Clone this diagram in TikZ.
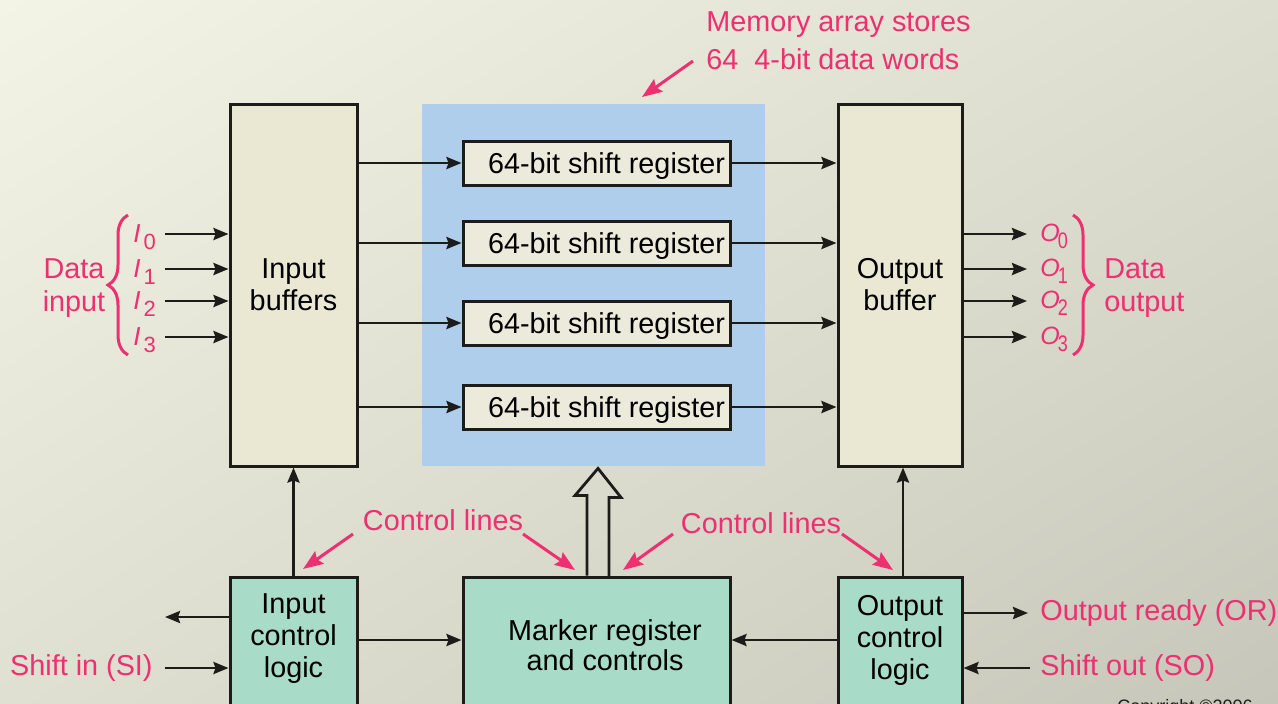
\documentclass[tikz,border=0pt]{standalone}
\usepackage{fontspec}
\setmainfont{Liberation Sans}
\usetikzlibrary{arrows.meta,decorations.pathreplacing,calc,shadings}
\definecolor{pinklbl}{RGB}{236,48,112}
\definecolor{bufcream}{RGB}{234,232,210}
\definecolor{regcream}{RGB}{236,234,218}
\definecolor{memblue}{RGB}{174,206,236}
\definecolor{ctlgreen}{RGB}{168,220,200}
\definecolor{inkblack}{RGB}{30,28,24}
\definecolor{bgA}{RGB}{243,243,230}
\definecolor{bgB}{RGB}{222,222,208}
\definecolor{bgC}{RGB}{224,224,210}
\definecolor{bgD}{RGB}{198,198,186}
\begin{document}
\begin{tikzpicture}[x=0.5pt,y=-0.5pt,
  box/.style={draw=inkblack, line width=1.5pt},
  txt/.style={font=\fontsize{14.4}{16}\selectfont, align=center, inner sep=0pt},
  lbl/.style={text=pinklbl, font=\fontsize{14.4}{16.5}\selectfont, inner sep=0pt},
  sub/.style={text=pinklbl, inner sep=0pt},
  sig/.style={draw=inkblack, line width=1.4pt, -{Stealth[length=7.5pt,width=6pt,inset=1pt]}},
  call/.style={draw=pinklbl, line width=1.5pt, -{Stealth[length=10pt,width=7.5pt,inset=1.5pt]}},
  brc/.style={draw=pinklbl, line width=1.5pt, decorate, decoration={brace, amplitude=10pt}}]

\useasboundingbox (0,0) rectangle (1278,703);
\shade[upper left=bgA, upper right=bgB, lower left=bgC, lower right=bgD] (0,0) rectangle (1278,703);

% memory array and buffers
\node[fill=memblue, minimum width=171.5pt, minimum height=181pt, inner sep=0pt] (mem) at (593.5,285) {};
\node[box, fill=bufcream, minimum width=63.5pt, minimum height=181pt, txt] (ib) at (293.5,285) {Input\\buffers};
\node[box, fill=bufcream, minimum width=62pt, minimum height=181pt, txt] (ob) at (900,285) {Output\\buffer};
\foreach \k/\y in {1/163,2/243,3/323,4/407}
  \node[box, fill=regcream, minimum width=133.5pt, minimum height=22pt, txt, text depth=0pt] (sr\k) at (596.5,\y) {\hspace*{10pt}64-bit shift register};

% control blocks
\node[box, fill=ctlgreen, minimum width=63.5pt, minimum height=91.5pt] (icl) at (293.5,668.5) {};
\node[txt] (iclt) at (293.5,639) {Input\\control\\logic};
\node[box, fill=ctlgreen, minimum width=133.5pt, minimum height=91.5pt] (mr) at (596.5,668.5) {};
\node[txt, font=\fontsize{14.4}{15}\selectfont] (mrt) at (605,645) {Marker register\\and controls};
\node[box, fill=ctlgreen, minimum width=62pt, minimum height=91.5pt] (ocl) at (900,668.5) {};
\node[txt] (oclt) at (900,640) {Output\\control\\logic};

% data paths through the registers
\foreach \k in {1,...,4} {
  \draw[sig] (ib.east |- sr\k.west) -- (sr\k.west);
  \draw[sig] (sr\k.east) -- (ob.west |- sr\k.east);
}

% data inputs and outputs
\foreach \k/\y in {0/234,1/269,2/301,3/337} {
  \coordinate (in\k) at (165,\y);
  \draw[sig] (in\k) -- (ib.west |- in\k);
  \node[sub, anchor=base west, font=\fontsize{13}{14}\selectfont] (il\k) at (133,\y+8) {\textit{I}\hspace{1.5pt}\raisebox{-3.5pt}{\fontsize{11}{12}\selectfont\k}};
  \coordinate (out\k) at (1027,\y);
  \draw[sig] (ob.east |- out\k) -- (out\k);
  \node[sub, anchor=base west, font=\fontsize{12.5}{14}\selectfont] (ol\k) at (1040,\y+7) {\textit{O}\hspace{-1pt}\raisebox{-3.5pt}{\scalebox{0.72}[0.9]{\k}}};
}
\draw[brc] (128,355) -- (128,215);
\draw[brc] (1073,215) -- (1073,355);
\node[lbl, align=center] (din) at (74,288) {Data\\input};
\node[lbl, align=left, anchor=west] (dout) at (1104,288) {Data\\output};

% control connections
\draw[sig] (icl.north) -- (ib.south);
\draw[sig] ([xshift=1.5pt]ocl.north) -- ([xshift=1.5pt]ob.south);
\coordinate (busy) at (0,640);
\draw[sig] (icl.east |- busy) -- (mr.west |- busy);
\draw[sig] (ocl.west |- busy) -- (mr.east |- busy);

% wide bus from marker register to memory array
\coordinate (hb) at ($(mr.north)+(1.5,0)$);
\coordinate (ht) at ($(mem.south)+(4.5,2)$);
\draw[inkblack, line width=1.4pt, line join=miter]
  (hb) ++(-11,0) -- ++(0,-80) -- ++(-12,0) -- (ht) -- ++(23,29) -- ++(-12,0) -- ++(0,80);

% handshake signals
\coordinate (lo) at (165,617);
\draw[sig] (icl.west |- lo) -- (lo);
\coordinate (si) at (165,668);
\draw[sig] (si) -- (icl.west |- si);
\node[lbl, anchor=east] (sil) at (153,668) {Shift in (SI)};
\coordinate (orr) at (1028,613);
\draw[sig] (ocl.east |- orr) -- (orr);
\node[lbl, anchor=west] (orl) at (1040,613) {Output ready (OR)};
\coordinate (so) at (1030,668);
\draw[sig] (so) -- (ocl.east |- so);
\node[lbl, anchor=west] (sol) at (1040,668) {Shift out (SO)};

% callouts
\node[lbl] (cl1) at (443,520) {Control lines};
\node[lbl] (cl2) at (761,523) {Control lines};
\coordinate (c1a) at (353,534); \coordinate (c1b) at (303,569);
\coordinate (c2a) at (523,534); \coordinate (c2b) at (575,570);
\coordinate (c3a) at (673,534); \coordinate (c3b) at (623,570);
\coordinate (c4a) at (842,534); \coordinate (c4b) at (893,570);
\draw[call] (c1a) -- (c1b);
\draw[call] (c2a) -- (c2b);
\draw[call] (c3a) -- (c3b);
\draw[call] (c4a) -- (c4b);
\node[lbl, align=left, anchor=west, font=\fontsize{14.4}{19}\selectfont] (meml) at (706,41) {Memory array stores\\64\ \ 4-bit data words};
\coordinate (m1a) at (693,61); \coordinate (m1b) at (642,97);
\draw[call] (m1a) -- (m1b);

\node[anchor=base west, inner sep=0pt, font=\fontsize{9}{10}\selectfont, text=inkblack] (copy) at (1117,712) {Copyright ©2006};
\end{tikzpicture}
\end{document}
